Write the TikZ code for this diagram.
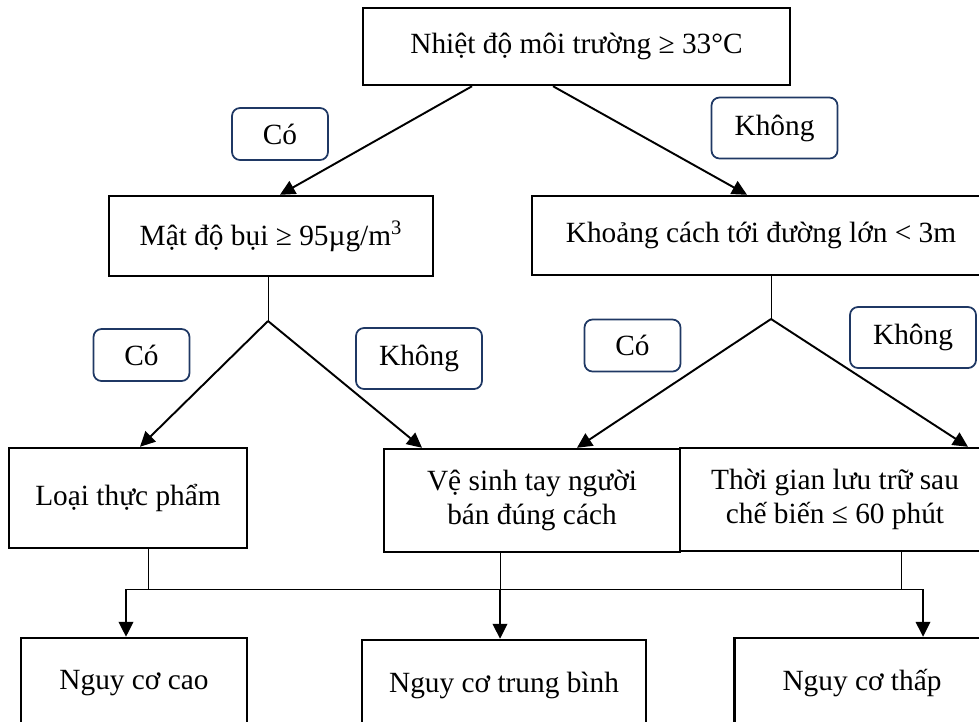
\documentclass[tikz,border=0pt]{standalone}
\usepackage{fontspec}
\setmainfont{Liberation Serif}
\usetikzlibrary{arrows.meta}

\definecolor{tagblue}{HTML}{1F3864}
\tikzset{
    box/.style={draw, line width=1.4pt, inner sep=2pt, align=center, font=\fontsize{16.7}{19.5}\selectfont},
    tag/.style={draw=tagblue, line width=1pt, rounded corners=0.16cm, font=\fontsize{16.7}{19.5}\selectfont},
    yestag/.style={tag, minimum width=1.92cm, minimum height=1.04cm},
    notag/.style={tag, minimum width=2.52cm, minimum height=1.22cm},
    arr/.style={line width=1.1pt, -{Triangle[length=0.3cm,width=0.29cm]}},
    stub/.style={line width=0.55pt}
}

\begin{document}
\begin{tikzpicture}[x=0.02cm, y=-0.02cm]
        \useasboundingbox (0,0) rectangle (979,721);
        \clip (0,0) rectangle (979,721);

        \node[box, minimum width=8.54cm, minimum height=1.54cm] (temp) at (576.5,46.5) {Nhiệt độ môi trường ≥ 33°C};
        \node[box, minimum width=6.48cm, minimum height=1.6cm] (dust) at (271,236) {Mật độ bụi ≥ 95µg/m\textsuperscript{3}};
        \node[box, minimum width=9.16cm, minimum height=1.58cm] (road) at (761,235.5) {Khoảng cách tới đường lớn < 3m};
        \node[box, minimum width=4.76cm, minimum height=2cm] (food) at (128,498) {Loại thực phẩm};
        \node[box, minimum width=5.92cm, minimum height=2.06cm] (hand) at (532,500.5) {Vệ sinh tay người\\bán đúng cách};
        \node[box, minimum width=6.2cm, minimum height=2.06cm] (time) at (835,499.5) {Thời gian lưu trữ sau\\chế biến ≤ 60 phút};
        \node[box, minimum width=4.52cm, minimum height=1.8cm] (high) at (134,683) {Nguy cơ cao};
        \node[box, minimum width=5.68cm, minimum height=1.8cm] (mid) at (504,685) {Nguy cơ trung bình};
        \node[box, minimum width=5.1cm, minimum height=1.8cm] (low) at (862,683) {Nguy cơ thấp};

        \node[yestag] (yes1) at (280,134) {Có};
        \node[notag] (no1) at (774.5,128) {Không};
        \node[yestag] (yes2) at (141.5,355) {Có};
        \node[notag] (no2) at (419,358.5) {Không};
        \node[yestag] (yes3) at (632.5,345.5) {Có};
        \node[notag] (no3) at (913,337.5) {Không};

        \coordinate (v1) at (268,321);
        \coordinate (v2) at (771,319);
        \coordinate (bl) at (126,589);
        \coordinate (j1) at (148,589);
        \coordinate (j2) at (500,589);
        \coordinate (j3) at (901,589);
        \coordinate (br) at (923,589);

        \draw[arr] ([xshift=-2.09cm]temp.south) to ([xshift=0.18cm]dust.north);
        \draw[arr] ([xshift=-0.47cm]temp.south) to ([xshift=-0.28cm]road.north);

        \draw[stub] (dust.south -| v1) to (v1);
        \draw[arr] (v1) to ([xshift=0.24cm]food.north);
        \draw[arr] (v1) to ([xshift=-2.2cm]hand.north);
        \draw[stub] (road.south -| v2) to (v2);
        \draw[arr] (v2) to ([xshift=0.9cm]hand.north);
        \draw[arr] (v2) to ([xshift=2.66cm]time.north);

        \draw[stub] (food.south -| j1) to (j1)
            (hand.south -| j2) to (j2)
            (time.south -| j3) to (j3)
            (bl) to (br);
        \draw[arr] (bl) to (high.north -| bl);
        \draw[arr] (j2) to (mid.north -| j2);
        \draw[arr] (br) to (low.north -| br);
    \end{tikzpicture}
\end{document}
